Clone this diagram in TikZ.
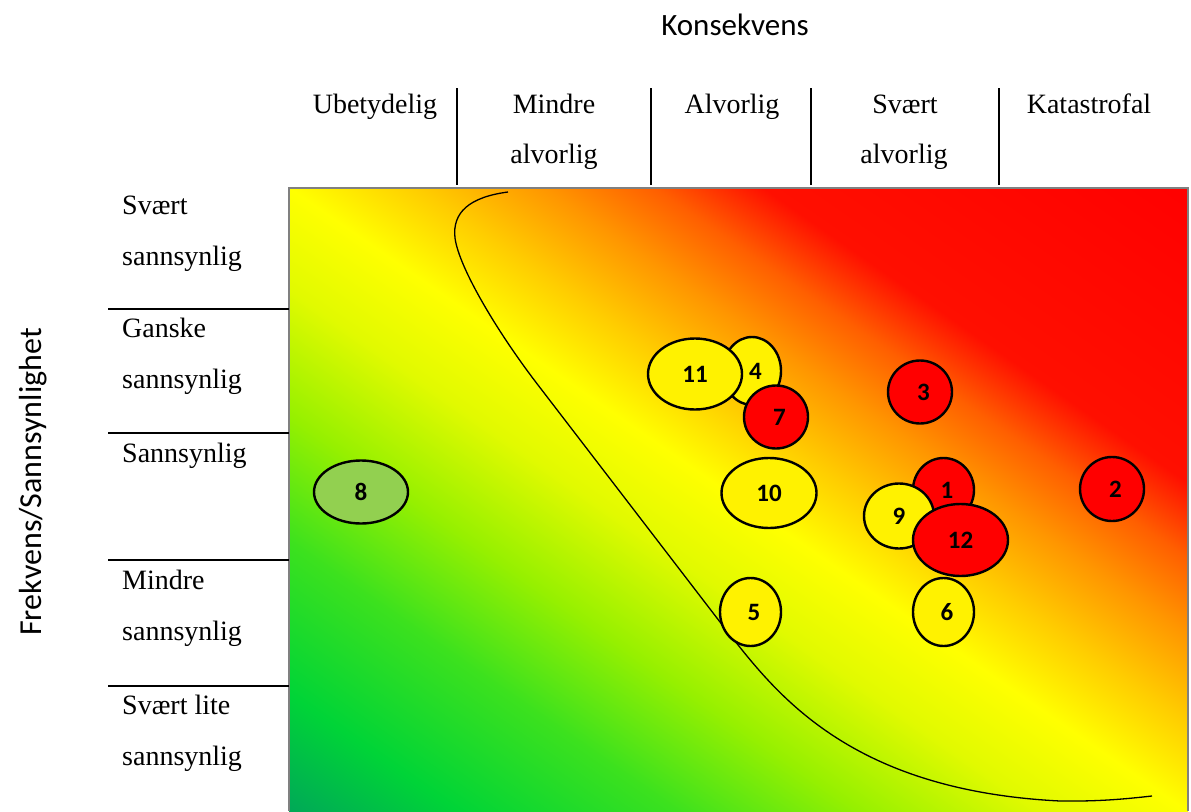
\documentclass[tikz,border=0pt]{standalone}
\usepackage{fontspec}
\setmainfont{Liberation Serif}
\newfontfamily\carlito{Carlito}
\usetikzlibrary{shapes.geometric}
\definecolor{g0}{RGB}{0,165,90}
\definecolor{g1}{RGB}{0,212,55}
\definecolor{g2}{RGB}{60,225,30}
\definecolor{g3}{RGB}{150,240,0}
\definecolor{g4}{RGB}{225,250,0}
\definecolor{yel}{RGB}{255,255,0}
\definecolor{o1}{RGB}{255,205,0}
\definecolor{o2}{RGB}{255,150,0}
\definecolor{o3}{RGB}{255,95,0}
\definecolor{o4}{RGB}{255,15,0}
\definecolor{rd}{RGB}{255,0,0}
\definecolor{lgreen}{RGB}{146,208,80}
\pgfdeclarehorizontalshading{risk}{100bp}{color(0bp)=(g0); color(14.64bp)=(g0); color(21.71bp)=(g1); color(30.2bp)=(g2); color(37.27bp)=(g3); color(44.34bp)=(g4); color(50bp)=(yel); color(54.95bp)=(o1); color(59.89bp)=(o2); color(64.14bp)=(o3); color(68.38bp)=(o4); color(85.36bp)=(rd); color(100bp)=(rd)}
\newcommand\padd{\kern7pt}
\begin{document}
\begin{tikzpicture}[x=1pt,y=-1pt,
  bub/.style={ellipse, draw=black, line width=2.4pt, inner sep=0pt, font=\carlito\bfseries\fontsize{25}{25}\selectfont},
  ylw/.style={bub, fill=yellow},
  redb/.style={bub, fill=rd},
  coltxt/.style={font=\fontsize{28}{28}\selectfont, inner sep=0pt, anchor=base},
  rowtxt/.style={coltxt, anchor=base west},
  axtxt/.style={font=\carlito\fontsize{31}{31}\selectfont, inner sep=0pt, anchor=base},
  divider/.style={line width=1.3pt}]
\useasboundingbox (0,0) rectangle (1191,811);
\fill[white] (0,0) rectangle (1191,811);
% gradient field
\shade[shading=risk, shading angle=55.25] (289,188) rectangle (1188,811);
\draw[gray, line width=1.2pt] (289,811) -- (289,188) -- (1188,188) -- (1188,811);
% axis titles
\node[axtxt] (kons) at (735,35) {Konsekvens};
\node[axtxt, rotate=90, font=\carlito\fontsize{32}{32}\selectfont] (frek) at (41,482) {Frekvens/Sannsynlighet};
% column labels
\node[coltxt] (c1) at (375,113) {Ubetydelig};
\node[coltxt] (c2a) at (554,113) {Mindre};
\node[coltxt] (c2b) at (554,163) {alvorlig};
\node[coltxt] (c3) at (732,113) {Alvorlig};
\node[coltxt] (c4a) at (905,113) {Svært};
\node[coltxt] (c4b) at (904,163) {alvorlig};
\node[coltxt] (c5) at (1089,113) {Katastrofal};
\foreach \x in {457,651,811,999} \draw[divider] (\x,88) -- (\x,185);
% row labels
\node[rowtxt] (r1a) at (122,214) {Svært};
\node[rowtxt] (r1b) at (122,265) {sannsynlig};
\node[rowtxt] (r2a) at (122,337) {Ganske};
\node[rowtxt] (r2b) at (122,388) {sannsynlig};
\node[rowtxt] (r3) at (122,462) {Sannsynlig};
\node[rowtxt] (r4a) at (122,589) {Mindre};
\node[rowtxt] (r4b) at (122,640) {sannsynlig};
\node[rowtxt] (r5a) at (122,714) {Svært lite};
\node[rowtxt] (r5b) at (122,765) {sannsynlig};
\foreach \y in {309,433,560,686} \draw[divider] (108,\y) -- (289,\y);
% acceptance curve
\draw[line width=1.3pt] (508,192) .. controls (470,197) and (452,212) .. (455,238)
  .. controls (459,268) and (498,333) .. (538,385) -- (720,622)
  .. controls (770,685) and (840,790) .. (1060,801)
  .. controls (1100,801.5) and (1125,799) .. (1152,796);
% risk bubbles
\node[bub, fill=lgreen, minimum width=94pt, minimum height=63pt] (b8) at (361,492) {8};
\node[ylw, minimum width=58pt, minimum height=68pt] (b4) at (752,371) {\padd 4};
\node[ylw, minimum width=94pt, minimum height=71pt] (b11) at (695,374) {11};
\node[redb, minimum width=64pt, minimum height=63pt] (b7) at (776,417) {\padd 7};
\node[redb, minimum width=64pt, minimum height=63pt] (b3) at (920,392) {\padd 3};
\node[ylw, minimum width=95pt, minimum height=70pt] (b10) at (769,493) {10};
\node[redb, minimum width=61pt, minimum height=64pt] (b1) at (943.5,490) {\padd 1};
\node[ylw, minimum width=70pt, minimum height=65pt] (b9) at (899,516) {9};
\node[redb, minimum width=95pt, minimum height=72pt] (b12) at (960.5,540) {12};
\node[ylw, minimum width=61pt, minimum height=68pt] (b5) at (750.5,612) {\padd 5};
\node[ylw, minimum width=61pt, minimum height=68pt] (b6) at (943.5,612) {\padd 6};
\node[redb, minimum width=64pt, minimum height=64pt] (b2) at (1112,489) {\padd 2};
\end{tikzpicture}
\end{document}
